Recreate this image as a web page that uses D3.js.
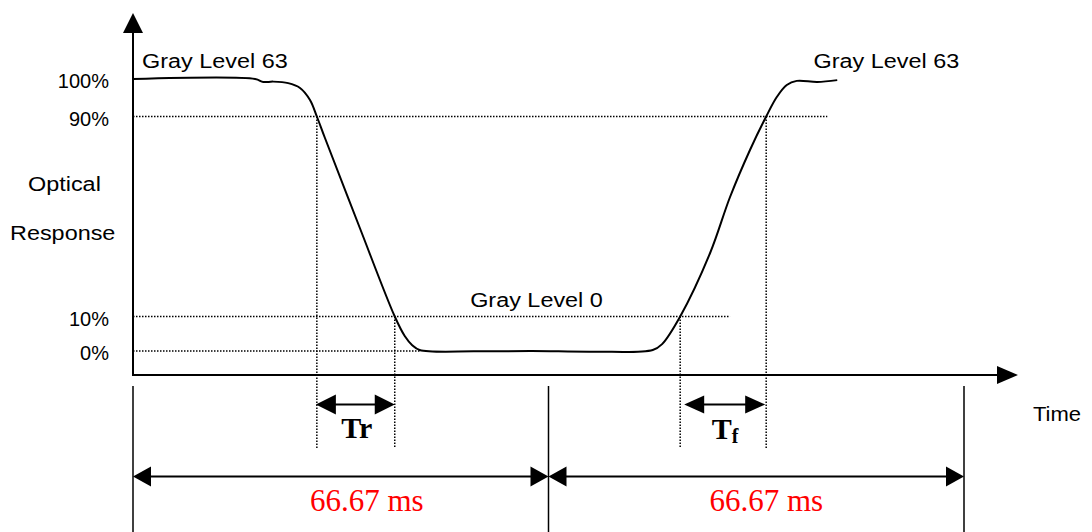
<!DOCTYPE html>
<html><head><meta charset="utf-8">
<script src="https://cdn.jsdelivr.net/npm/d3@7"></script>
<style>body{margin:0;background:#fff}</style>
</head><body><svg id="c" width="1092" height="532"></svg>
<script>
// ---- data (time in ms, optical response in %) ----
const responseTime  = [0, 19.6, 20.9, 22.5, 24.9, 26.8, 28.4, 29.5, 30.8, 36.4, 42.0, 43.6, 44.8, 46.0, 55.0, 64.0, 74.0, 83.4, 84.9, 87.8, 92.6, 95.8, 99.0, 101.6, 103.3, 104.9, 106.5, 109.8, 113.0];
const responseLevel = [100, 100, 99.2, 99.3, 98.9, 97.6, 94.4, 90, 81.4, 45.4, 10, 4.35, 1.7, 0.3, -0.1, 0, -0.2, 0.3, 2, 10, 35.4, 57.8, 76.6, 90, 95.2, 98.4, 99.5, 99.2, 99.7];
const levelTicks = [0, 10, 90, 100];
const levelTickLabels = ["0%", "10%", "90%", "100%"];
const refLevels = [90, 10, 0];
const refEnds = [111.4, 95.8, 46.0];
const trSpan = [29.5, 42.0];   // 90% -> 10% (falling)
const tfSpan = [87.8, 101.6];  // 10% -> 90% (rising)
const trLevels = [90, 10];
const tfLevels = [10, 90];
const periods = [66.67, 66.67];
const periodLabels = ["66.67 ms", "66.67 ms"];
const grayLabels = ["Gray Level 63", "Gray Level 0", "Gray Level 63"];

// ---- layout ----
const svg = d3.select("#c");
const totalT = d3.sum(periods);
const x = d3.scaleLinear().domain([0, totalT]).range([133, 964]);
const y = d3.scaleLinear().domain(levelTicks).range([351, 316.5, 116.5, 79]);
const axisY = 375, axisTop = 13, axisRight = 1018;
const sans = "'Liberation Sans', Arial, sans-serif";
const serif = "'Liberation Serif', 'Times New Roman', serif";
const stretchK = 1.17;
function stretch(sel, k) {
  sel.each(function () {
    const w = this.getComputedTextLength();
    this.setAttribute("textLength", w * k);
    this.setAttribute("lengthAdjust", "spacingAndGlyphs");
  });
}

// dotted reference lines (horizontal)
const dot = "1.5 1.5";
svg.selectAll("line.href").data(refLevels).join("line")
  .attr("x1", x(0)).attr("x2", (d, i) => x(refEnds[i]))
  .attr("y1", d => y(d)).attr("y2", d => y(d))
  .attr("stroke", "#000").attr("stroke-width", 1.5).attr("stroke-dasharray", dot);

// dotted vertical drop lines
const drops = [
  [trSpan[0], trLevels[0]], [trSpan[1], trLevels[1]],
  [tfSpan[0], tfLevels[0]], [tfSpan[1], tfLevels[1]]
];
svg.selectAll("line.vdrop").data(drops).join("line")
  .attr("x1", d => x(d[0])).attr("x2", d => x(d[0]))
  .attr("y1", d => y(d[1])).attr("y2", axisY + 73)
  .attr("stroke", "#000").attr("stroke-width", 1.5).attr("stroke-dasharray", dot);

// response curve
const pts = responseTime.map((t, i) => [t, responseLevel[i]]);
svg.append("path")
  .attr("d", d3.line().x(d => x(d[0])).y(d => y(d[1])).curve(d3.curveCatmullRom.alpha(0.5))(pts))
  .attr("fill", "none").attr("stroke", "#000").attr("stroke-width", 2);

// axes
svg.append("line").attr("x1", x(0)).attr("x2", x(0)).attr("y1", axisTop + 18).attr("y2", axisY + 1)
  .attr("stroke", "#000").attr("stroke-width", 2);
svg.append("path").attr("d", `M${x(0)},${axisTop}L${x(0) - 10},${axisTop + 20}L${x(0) + 10},${axisTop + 20}Z`).attr("fill", "#000");
svg.append("line").attr("x1", x(0) - 1).attr("x2", axisRight - 18).attr("y1", axisY).attr("y2", axisY)
  .attr("stroke", "#000").attr("stroke-width", 2);
svg.append("path").attr("d", `M${axisRight},${axisY}L${axisRight - 21},${axisY - 9}L${axisRight - 21},${axisY + 9}Z`).attr("fill", "#000");

// tick labels
svg.selectAll("text.tick").data(levelTicks).join("text")
  .attr("x", 109).attr("y", d => y(d) + 2).attr("dy", "0.35em")
  .attr("text-anchor", "end").attr("font-family", sans).attr("font-size", 20)
  .text((d, i) => levelTickLabels[i]);

// axis titles
const t1 = svg.append("text").attr("x", 28).attr("y", 191).attr("font-family", sans).attr("font-size", 20).text("Optical");
const t2 = svg.append("text").attr("x", 10).attr("y", 240).attr("font-family", sans).attr("font-size", 20).text("Response");
const t3 = svg.append("text").attr("x", 1033).attr("y", 421).attr("font-family", sans).attr("font-size", 20).text("Time");
stretch(t1, stretchK); stretch(t2, stretchK); stretch(t3, 1.1);

// gray level labels
const grayPos = [[x(0) + 9, y(100) - 11], [x(54.1), y(10) - 10], [x(109.2), y(100) - 11]];
const gl = svg.selectAll("text.gray").data(grayLabels).join("text")
  .attr("x", (d, i) => grayPos[i][0]).attr("y", (d, i) => grayPos[i][1])
  .attr("font-family", sans).attr("font-size", 20).text(d => d);
stretch(gl, stretchK);

// arrow helper
function dblArrow(x1, x2, yy, len, half) {
  svg.append("line").attr("x1", x1 + len - 2).attr("x2", x2 - len + 2).attr("y1", yy).attr("y2", yy)
    .attr("stroke", "#000").attr("stroke-width", 2);
  svg.append("path").attr("d", `M${x1},${yy}L${x1 + len},${yy - half}L${x1 + len},${yy + half}Z`).attr("fill", "#000");
  svg.append("path").attr("d", `M${x2},${yy}L${x2 - len},${yy - half}L${x2 - len},${yy + half}Z`).attr("fill", "#000");
}

// Tr / Tf
dblArrow(x(trSpan[0]) - 1, x(trSpan[1]), 404.5, 20, 10);
dblArrow(x(tfSpan[0]) + 4, x(tfSpan[1]) - 1, 404.5, 20, 9);
svg.append("text").attr("x", (x(trSpan[0]) + x(trSpan[1])) / 2 + 1).attr("y", 438)
  .attr("text-anchor", "middle").attr("font-family", serif).attr("font-weight", "bold").attr("font-size", 30).text("Tr");
const tf = svg.append("text").attr("x", (x(tfSpan[0]) + x(tfSpan[1])) / 2 + 2).attr("y", 439)
  .attr("text-anchor", "middle").attr("font-family", serif).attr("font-weight", "bold").attr("font-size", 30);
tf.append("tspan").text("T");
tf.append("tspan").attr("font-size", 20).attr("dy", 4).text("f");

// period boundaries and arrows
const bounds = [0, ...d3.cumsum(periods)];
svg.selectAll("line.bound").data(bounds).join("line")
  .attr("x1", d => x(d)).attr("x2", d => x(d)).attr("y1", axisY + 11).attr("y2", 532)
  .attr("stroke", "#000").attr("stroke-width", 1.5);
periods.forEach((p, i) => {
  dblArrow(x(bounds[i]), x(bounds[i + 1]), 476.5, 18, 10);
});
svg.selectAll("text.period").data(periodLabels).join("text")
  .attr("x", (d, i) => (x(bounds[i]) + x(bounds[i + 1])) / 2 + (i === 0 ? 26 : 10))
  .attr("y", 511).attr("text-anchor", "middle")
  .attr("font-family", serif).attr("font-size", 31).attr("fill", "#ff0000").text(d => d);
</script></body></html>
